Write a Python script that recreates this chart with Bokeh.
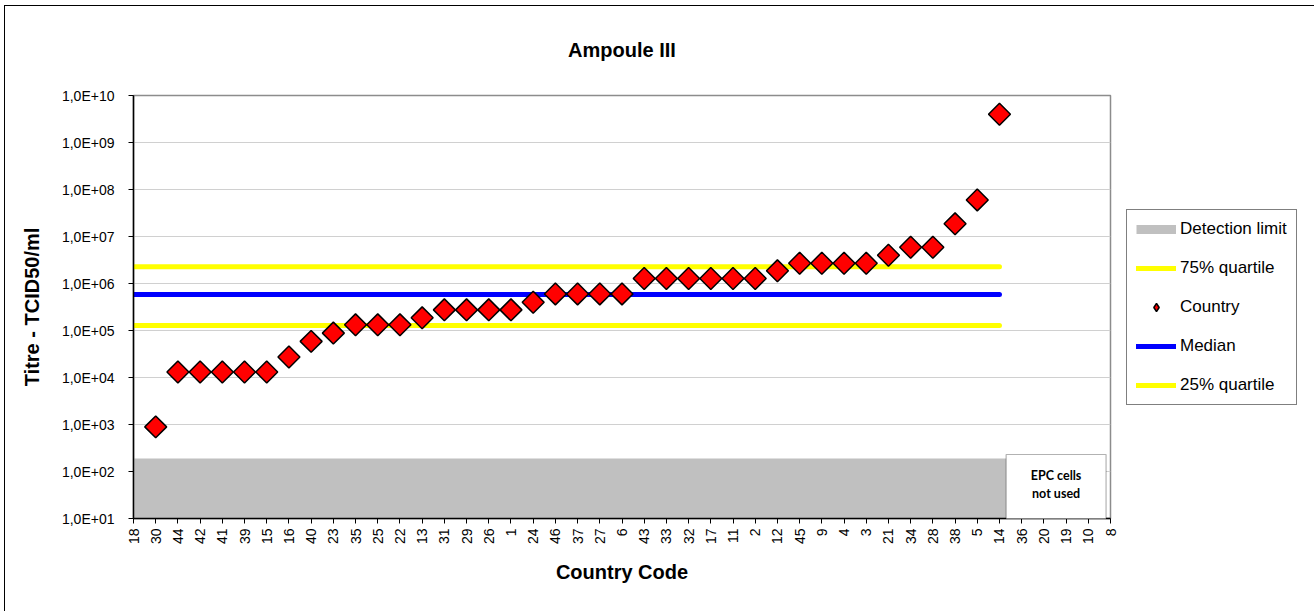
import math
from bokeh.plotting import figure
from bokeh.models import (ColumnDataSource, FixedTicker, Legend, LegendItem,
                          BoxAnnotation, Label, InlineStyleSheet)
from bokeh.embed import file_html
from bokeh.resources import INLINE

# ---------------- data ----------------
categories = ["18", "30", "44", "42", "41", "39", "15", "16", "40", "23",
              "35", "25", "22", "13", "31", "29", "26", "1", "24", "46",
              "37", "27", "6", "43", "33", "32", "17", "11", "2", "12",
              "45", "9", "4", "3", "21", "34", "28", "38", "5", "14",
              "36", "20", "19", "10", "8"]
titre = [None, 890, 1.31e4, 1.31e4, 1.31e4, 1.31e4, 1.31e4, 2.73e4, 5.87e4, 8.8e4,
         1.32e5, 1.32e5, 1.32e5, 1.86e5, 2.75e5, 2.75e5, 2.75e5, 2.75e5, 4.0e5, 6.0e5,
         6.0e5, 6.0e5, 6.0e5, 1.28e6, 1.28e6, 1.28e6, 1.28e6, 1.28e6, 1.28e6, 1.86e6,
         2.7e6, 2.7e6, 2.7e6, 2.7e6, 4.0e6, 5.9e6, 5.9e6, 1.86e7, 6.0e7, 4.0e9,
         None, None, None, None, None]
quartile_75 = 2.27e6
median = 5.8e5
quartile_25 = 1.28e5
detection_limit = 190
stats_from, stats_to = "18", "14"
band_from, band_to = "18", "36"
y_ticks = [1e1, 1e2, 1e3, 1e4, 1e5, 1e6, 1e7, 1e8, 1e9, 1e10]
y_tick_labels = ["1,0E+01", "1,0E+02", "1,0E+03", "1,0E+04", "1,0E+05",
                 "1,0E+06", "1,0E+07", "1,0E+08", "1,0E+09", "1,0E+10"]

# ---------------- figure ----------------
FONT = "Liberation Sans"
p = figure(frame_width=977, frame_height=423, output_backend="svg",
           toolbar_location=None,
           y_axis_type="log", x_range=(0, len(categories) - 1), y_range=(1e1, 1e10),
           min_border_left=133, min_border_right=204, min_border_top=95,
           min_border_bottom=93)
p.background_fill_color = "white"
p.border_fill_color = "white"
p.outline_line_color = "#8c8c8c"
p.outline_line_width = 1.5
# outer chart border
p.stylesheets = [InlineStyleSheet(css=(
    ":host { position: relative; }"
    ":host::after { content: ''; position: absolute; left: 4px; top: 5px; "
    "right: 4px; bottom: -4px; border: 1.5px solid black; pointer-events: none; "
    "z-index: 100; }"))]

p.title.text = "Ampoule III"
p.title.text_font = FONT
p.title.text_font_size = "20px"
p.title.text_font_style = "bold"
p.title.text_color = "black"
p.title.align = "center"
p.title.offset = -12
p.title.standoff = 70

# grid
p.xgrid.grid_line_color = None
p.ygrid.grid_line_color = "#d0d0d0"
p.ygrid.grid_line_width = 1

# y axis
p.yaxis.ticker = FixedTicker(ticks=y_ticks, minor_ticks=[])
p.yaxis.major_label_overrides = {t: l for t, l in zip(y_ticks, y_tick_labels)}
p.yaxis.major_label_text_font = FONT
p.yaxis.major_label_text_font_size = "14px"
p.yaxis.major_label_text_color = "black"
p.yaxis.major_label_standoff = 14
p.yaxis.major_tick_out = 5
p.yaxis.major_tick_in = 0
p.yaxis.minor_tick_out = 0
p.yaxis.minor_tick_in = 0
p.yaxis.axis_line_color = "black"
p.yaxis.axis_line_width = 1.5
p.yaxis.axis_label = "Titre - TCID50/ml"
p.yaxis.axis_label_text_font = FONT
p.yaxis.axis_label_text_font_size = "20px"
p.yaxis.axis_label_text_font_style = "bold"
p.yaxis.axis_label_text_color = "black"
p.yaxis.axis_label_standoff = 16

# x axis
xs_all = list(range(len(categories)))
p.xaxis.ticker = FixedTicker(ticks=xs_all, minor_ticks=[])
p.xaxis.major_label_overrides = {i: c for i, c in enumerate(categories)}
p.xaxis.major_label_orientation = math.pi / 2
p.xaxis.major_label_text_font = FONT
p.xaxis.major_label_text_font_size = "14px"
p.xaxis.major_label_text_color = "black"
p.xaxis.major_label_standoff = 5
p.xaxis.major_tick_out = 5
p.xaxis.major_tick_in = 0
p.xaxis.axis_line_color = "black"
p.xaxis.axis_line_width = 1.5
p.xaxis.axis_label = "Country Code"
p.xaxis.axis_label_text_font = FONT
p.xaxis.axis_label_text_font_size = "20px"
p.xaxis.axis_label_text_font_style = "bold"
p.xaxis.axis_label_text_color = "black"
p.xaxis.axis_label_standoff = 14

# detection limit band
b0, b1 = categories.index(band_from), categories.index(band_to)
band = p.varea(x=[b0, b1], y1=[1e1, 1e1], y2=[detection_limit, detection_limit],
               fill_color="#c0c0c0")
# hidden renderer used only as legend key for the band
r_det = p.line([b0, b1], [detection_limit, detection_limit], line_color="#c0c0c0",
               line_width=9, visible=False)

# statistic lines
s0, s1 = categories.index(stats_from), categories.index(stats_to)
r_q75 = p.line([s0, s1], [quartile_75, quartile_75], line_color="#ffff00",
               line_width=5, line_cap="round")
r_q25 = p.line([s0, s1], [quartile_25, quartile_25], line_color="#ffff00",
               line_width=5, line_cap="round")
r_med = p.line([s0, s1], [median, median], line_color="#0000ff",
               line_width=5, line_cap="round")

# country points
pts_x = [i for i, v in enumerate(titre) if v is not None]
pts_y = [v for v in titre if v is not None]
src = ColumnDataSource(dict(x=pts_x, y=pts_y))
r_pts = p.scatter("x", "y", source=src, marker="square", angle=math.pi / 4,
                  size=15.5, fill_color="#ff0000", line_color="black", line_width=1.5)
# hidden renderer used only as legend key (diamond shape)
r_pts_key = p.scatter("x", "y", source=src, marker="diamond", size=15.5,
                      fill_color="#ff0000", line_color="black", line_width=1.5,
                      visible=False)

legend = Legend(items=[
    LegendItem(label="Detection limit", renderers=[r_det]),
    LegendItem(label="75% quartile", renderers=[r_q75]),
    LegendItem(label="Country", renderers=[r_pts_key]),
    LegendItem(label="Median", renderers=[r_med]),
    LegendItem(label="25% quartile", renderers=[r_q25]),
], location="left")
legend.label_text_font = FONT
legend.label_text_font_size = "17px"
legend.label_text_color = "black"
legend.glyph_width = 40
legend.glyph_height = 20
legend.label_height = 20
legend.label_standoff = 4
legend.spacing = 19
legend.padding = 9
legend.margin = 16
legend.border_line_color = "black"
legend.border_line_width = 1
legend.background_fill_color = "white"
legend.background_fill_alpha = 1
p.add_layout(legend, "right")

# EPC note box
epc = BoxAnnotation(left=39.3, right=43.8, top=2.3e2, bottom=-3,
                    bottom_units="screen", fill_color="white", fill_alpha=1,
                    line_color="black", line_width=1.2, level="overlay")
p.add_layout(epc)
p.add_layout(Label(x=41.55, y=34, y_units="screen", text="EPC cells\nnot used",
                   text_align="center", text_baseline="middle",
                   text_font="Lato", text_font_style="bold", text_font_size="12.5px",
                   text_line_height=1.2, text_color="black", level="overlay"))

open("out.html", "w").write(file_html(p, INLINE))
